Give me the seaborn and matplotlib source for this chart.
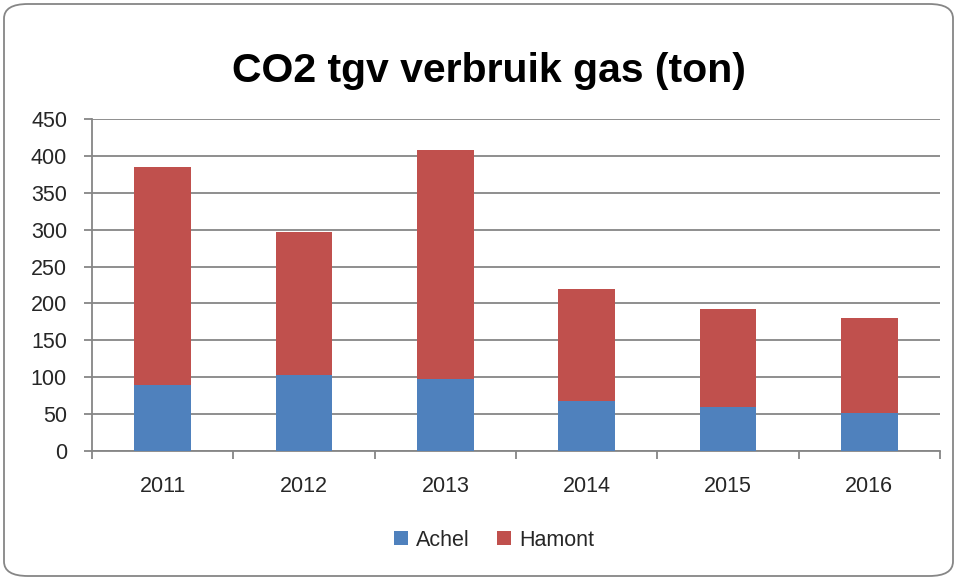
import numpy as np
import pandas as pd
import matplotlib
matplotlib.use("Agg")
import matplotlib.pyplot as plt
import seaborn as sns
from matplotlib.patches import FancyBboxPatch, Patch
from matplotlib.ticker import FixedLocator

years = ["2011", "2012", "2013", "2014", "2015", "2016"]
achel = [90, 103, 97, 68, 59, 52]
hamont = [295, 194, 311, 151, 134, 128]
series_names = ["Achel", "Hamont"]
colors = ["#4F81BD", "#C0504D"]
yticks = [0, 50, 100, 150, 200, 250, 300, 350, 400, 450]
title = "CO2 tgv verbruik gas (ton)"

sns.set_style("white")
plt.rcParams["font.family"] = ["Liberation Sans", "DejaVu Sans"]

df = pd.DataFrame({"year": years, "Achel": achel, "Hamont": hamont})
df["total"] = df["Achel"] + df["Hamont"]

fig = plt.figure(figsize=(9.57, 5.8), dpi=100)
ax = fig.add_axes([92/957, 1-451/580, (940-92)/957, (451-119)/580])

sns.barplot(data=df, x="year", y="total", color=colors[1], width=0.4,
            saturation=1, ax=ax, zorder=3, linewidth=0)
sns.barplot(data=df, x="year", y="Achel", color=colors[0], width=0.4,
            saturation=1, ax=ax, zorder=4, linewidth=0)

ax.set_ylim(0, 450)
ax.set_xlim(-0.5, len(years) - 0.5)
ax.set_yticks(yticks)
ax.yaxis.grid(True, color="#868686", linewidth=1.3, zorder=0)
ax.set_axisbelow(True)
for s in ["top", "right"]:
    ax.spines[s].set_visible(False)
for s in ["left", "bottom"]:
    ax.spines[s].set_color("#868686")
    ax.spines[s].set_linewidth(1.3)
ax.set_xlabel("")
ax.set_ylabel("")
ax.tick_params(axis="y", which="major", length=6, width=1.3, color="#868686",
               direction="out", labelsize=15.5, pad=12, left=True)
ax.tick_params(axis="x", which="major", length=0, labelsize=15.5, pad=18)
ax.xaxis.set_minor_locator(FixedLocator(np.arange(-0.5, len(years), 1.0)))
ax.tick_params(axis="x", which="minor", length=6, width=1.3, color="#868686",
               direction="out", bottom=True)

fig.text(489/957, 1-82/580, title, ha="center", va="baseline",
         fontsize=29.5, fontweight="bold", color="black")

handles = [Patch(facecolor=c, edgecolor="none") for c in colors]
fig.legend(handles, series_names, loc="center", bbox_to_anchor=(494/957, 1-540/580),
           ncol=2, frameon=False, fontsize=15.5, handlelength=0.65, handleheight=0.65,
           handletextpad=0.35, columnspacing=1.3)

border = FancyBboxPatch((4/957, 4/580), 949/957, 572/580,
                        boxstyle="round,pad=0,rounding_size=0.025",
                        transform=fig.transFigure, facecolor="none",
                        edgecolor="#868686", linewidth=1.3)
fig.patches.append(border)

fig.savefig("out.png", dpi=100)
